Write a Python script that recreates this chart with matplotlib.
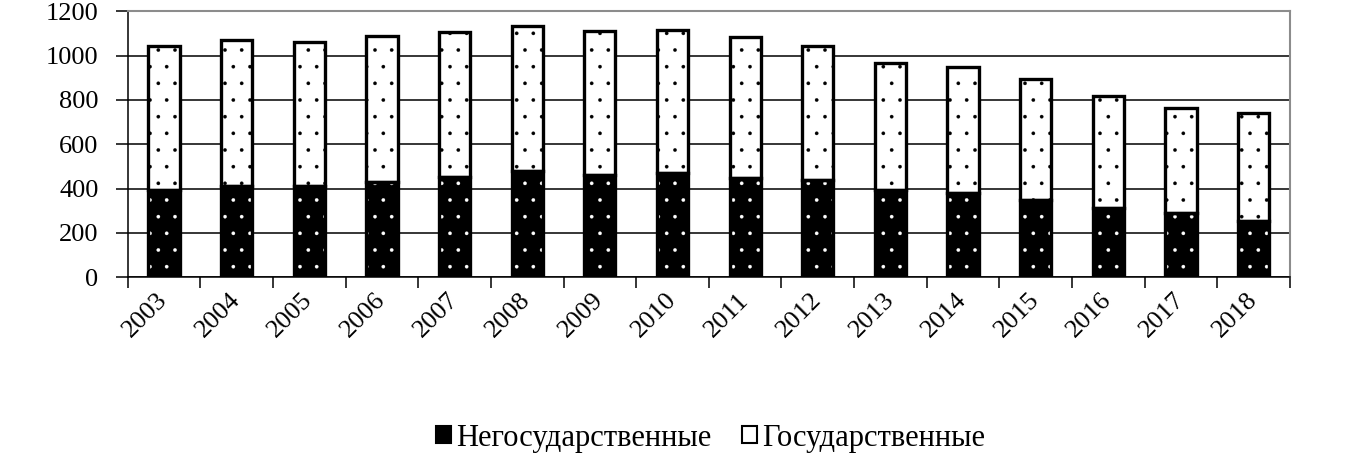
import matplotlib
matplotlib.use("Agg")
import matplotlib.pyplot as plt
from matplotlib.patches import Patch
import numpy as np

years = ["2003", "2004", "2005", "2006", "2007", "2008", "2009", "2010",
         "2011", "2012", "2013", "2014", "2015", "2016", "2017", "2018"]
non_state = [393, 411, 413, 431, 452, 478, 460, 468, 448, 440, 393, 378, 349, 311, 292, 255]
totals = [1043, 1070, 1063, 1090, 1108, 1135, 1109, 1117, 1082, 1045, 968, 950, 894, 818, 763, 743]
state = [t - n for t, n in zip(totals, non_state)]
label_non_state = "Негосударственные"
label_state = "Государственные"

plt.rcParams['font.family'] = ['Liberation Serif', 'DejaVu Serif']
plt.rcParams['hatch.linewidth'] = 0.2

fig = plt.figure(figsize=(13.48, 4.65), dpi=100)
ax = fig.add_axes([0.0947, 0.4037, 0.957 - 0.0947, 0.976 - 0.4037])

x = np.arange(len(years)) + 0.5
w = 0.43

ax.set_axisbelow(True)
ax.yaxis.grid(True, color='black', linewidth=1.1)

# fills with hatch (hatch colour follows edgecolor)
ax.bar(x, non_state, w, color='black', edgecolor='white', hatch='.', linewidth=0, zorder=2)
ax.bar(x, state, w, bottom=non_state, color='white', edgecolor='black', hatch='.', linewidth=0, zorder=2)
# thick outlines
ax.bar(x, non_state, w, fill=False, edgecolor='black', linewidth=2.4, zorder=3)
ax.bar(x, state, w, bottom=non_state, fill=False, edgecolor='black', linewidth=2.4, zorder=3)

ax.set_xlim(0, len(years))
ax.set_ylim(0, 1200)
ax.set_yticks(np.arange(0, 1201, 200))
ax.tick_params(axis='y', direction='out', length=9, width=1.1, labelsize=19, pad=12, colors='black')

ax.set_xticks(np.arange(0, len(years) + 1))
ax.set_xticklabels([])
ax.tick_params(axis='x', which='major', direction='out', length=8, width=1.1)
ax.set_xticks(x, minor=True)
ax.set_xticklabels(years, minor=True, rotation=45, ha='right', va='center',
                   rotation_mode='anchor', fontsize=19)
ax.tick_params(axis='x', which='minor', length=0, pad=14)

for s in ['left', 'bottom']:
    ax.spines[s].set_color('black')
    ax.spines[s].set_linewidth(1.1)
for s in ['top', 'right']:
    ax.spines[s].set_color('#8c8c8c')
    ax.spines[s].set_linewidth(1.5)

handles = [Patch(facecolor='black', edgecolor='black', linewidth=1.5),
           Patch(facecolor='white', edgecolor='black', linewidth=1.5)]
fig.legend(handles, [label_non_state, label_state], loc='center',
           bbox_to_anchor=(0.527, 0.058), ncol=2, frameon=False, fontsize=22,
           handlelength=0.5, handleheight=0.5, handletextpad=0.15, columnspacing=1.0)

fig.savefig("out.png", dpi=100)
